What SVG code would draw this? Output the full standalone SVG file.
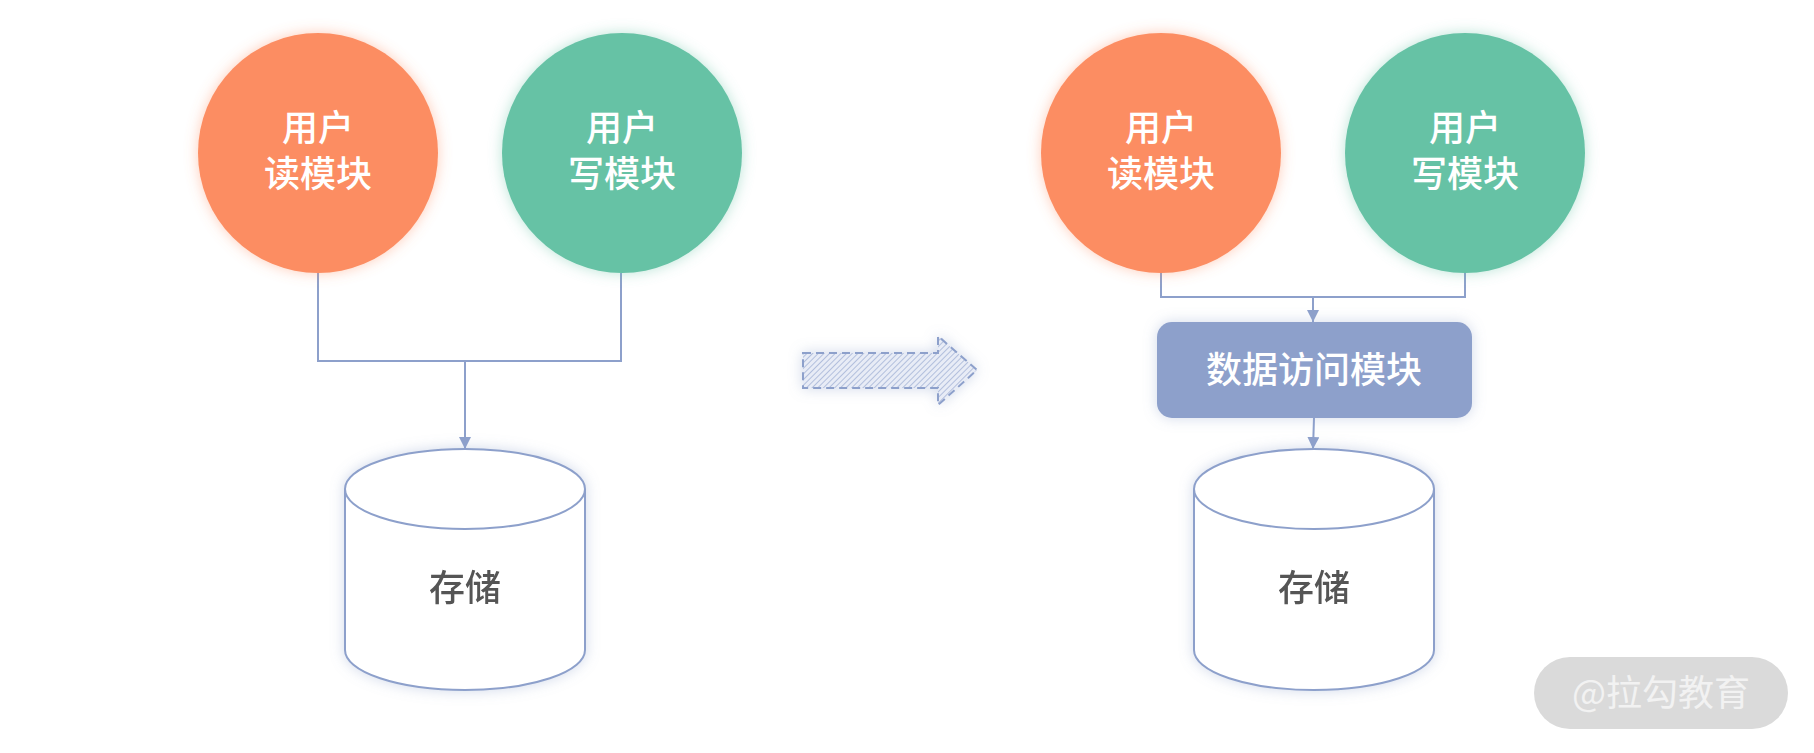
<svg xmlns="http://www.w3.org/2000/svg" width="1814" height="753" viewBox="0 0 1814 753">
<style>
.lbl{font-family:"Noto Sans CJK SC","Noto Sans",sans-serif;font-size:36px;font-weight:500;fill:#ffffff;text-anchor:middle}
.db{font-family:"Noto Sans CJK SC","Noto Sans",sans-serif;font-size:36px;font-weight:500;fill:#555555;text-anchor:middle}
.edge{fill:none;stroke:#8DA0CB;stroke-width:2}
.cyl{fill:#ffffff;stroke:#8DA0CB;stroke-width:2}
</style>
<defs>
<filter id="glowO" x="-30%" y="-30%" width="160%" height="160%"><feDropShadow dx="0" dy="0" stdDeviation="7" flood-color="#FC8D62" flood-opacity="0.45"/></filter>
<filter id="glowG" x="-30%" y="-30%" width="160%" height="160%"><feDropShadow dx="0" dy="0" stdDeviation="7" flood-color="#66C2A5" flood-opacity="0.45"/></filter>
<filter id="glowB" x="-30%" y="-30%" width="160%" height="160%"><feDropShadow dx="0" dy="0" stdDeviation="7" flood-color="#8DA0CB" flood-opacity="0.4"/></filter>
<marker id="arr" viewBox="0 0 12 12" refX="12" refY="6" markerWidth="12" markerHeight="12" markerUnits="userSpaceOnUse" orient="auto"><path d="M0,0 L12,6 L0,12 Z" fill="#8DA0CB"/></marker>
<pattern id="hatch" width="4" height="4" patternUnits="userSpaceOnUse" patternTransform="rotate(45)"><rect width="4" height="4" fill="#e8ecf6"/><line x1="0" y1="0" x2="0" y2="4" stroke="#b2bfdd" stroke-width="2"/></pattern>
</defs>

<g id="connectors">
<path class="edge" d="M318,273 V361 H621 V273"/>
<path class="edge" d="M465,361 V449" marker-end="url(#arr)"/>
<path class="edge" d="M1161,273 V297 H1465 V273"/>
<path class="edge" d="M1313,297 V322" marker-end="url(#arr)"/>
<path class="edge" d="M1314,418 L1313,449" marker-end="url(#arr)"/>
</g>

<g id="read-left">
<circle cx="318" cy="153" r="120" fill="#FC8D62" filter="url(#glowO)"/>
<text class="lbl" x="318" y="141">用户<tspan x="318" dy="46">读模块</tspan></text>
</g>
<g id="write-left">
<circle cx="622" cy="153" r="120" fill="#66C2A5" filter="url(#glowG)"/>
<text class="lbl" x="622" y="141">用户<tspan x="622" dy="46">写模块</tspan></text>
</g>
<g id="storage-left" filter="url(#glowB)">
<path class="cyl" d="M345,489 A120,40 0 0 1 585,489 V650 A120,40 0 0 1 345,650 Z"/>
<path class="cyl" d="M345,489 A120,40 0 0 0 585,489"/>
<text class="db" x="465" y="601">存储</text>
</g>

<g id="transform-arrow">
<path d="M803,353 H938 V336 L977,370 L938,405 V388 H803 Z" fill="url(#hatch)" stroke="#8DA0CB" stroke-width="2" stroke-dasharray="8,5" filter="url(#glowB)"/>
</g>

<g id="read-right">
<circle cx="1161" cy="153" r="120" fill="#FC8D62" filter="url(#glowO)"/>
<text class="lbl" x="1161" y="141">用户<tspan x="1161" dy="46">读模块</tspan></text>
</g>
<g id="write-right">
<circle cx="1465" cy="153" r="120" fill="#66C2A5" filter="url(#glowG)"/>
<text class="lbl" x="1465" y="141">用户<tspan x="1465" dy="46">写模块</tspan></text>
</g>
<g id="data-access">
<rect x="1157" y="322" width="315" height="96" rx="15" fill="#8DA0CB" filter="url(#glowB)"/>
<text class="lbl" x="1314" y="383">数据访问模块</text>
</g>
<g id="storage-right" filter="url(#glowB)">
<path class="cyl" d="M1194,489 A120,40 0 0 1 1434,489 V650 A120,40 0 0 1 1194,650 Z"/>
<path class="cyl" d="M1194,489 A120,40 0 0 0 1434,489"/>
<text class="db" x="1314" y="601">存储</text>
</g>

<g id="watermark">
<rect x="1534" y="657" width="254" height="72" rx="36" fill="#dadada"/>
<text x="1661" y="706" font-family="Noto Sans CJK SC,sans-serif" font-size="36" fill="#f2f2f2" text-anchor="middle">@拉勾教育</text>
</g>
</svg>
